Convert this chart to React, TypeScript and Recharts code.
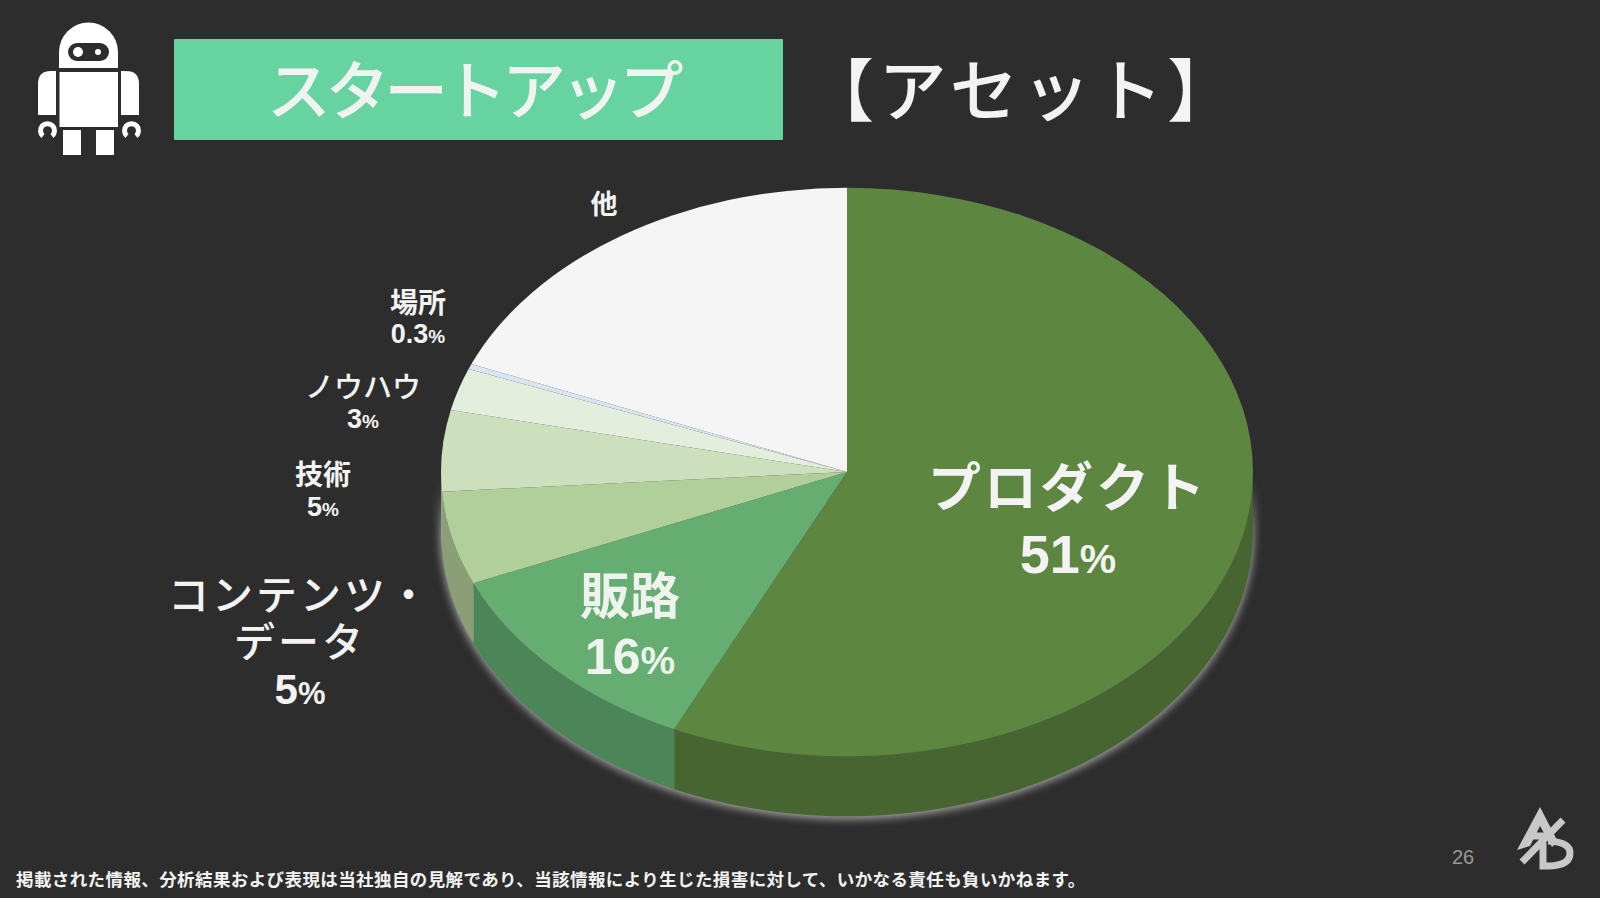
import React from 'react';
import { PieChart, Pie } from 'recharts';

// Slice order, clockwise from 12 o'clock.
const categories = ['プロダクト', '販路', 'コンテンツ・データ', '技術', 'ノウハウ', '場所', '他'];
// Shares as actually drawn in the picture (measured from the slice boundaries).
// The printed percentages below are the slide's own text and do not agree with the drawn areas.
const drawnShares = [57, 11.6, 5.3, 4.6, 2.4, 0.3, 18.8];
const printedPercents = ['51', '16', '5', '5', '3', '0.3', ''];
const labelNameLines = [['プロダクト'], ['販路'], ['コンテンツ・', 'データ'], ['技術'], ['ノウハウ'], ['場所'], ['他']];
const topColors = ['#5d8741', '#66ad72', '#b0cf9b', '#cde0bd', '#e4eedd', '#d9e5f2', '#f5f5f5'];
const wallColors = ['#466531', '#4c8558', '#8a9e78', '#9aa88e', '#aab3a5', '#a3acb5', '#b8b8b8'];

const pieData = categories.map((name, i) => ({ name, value: drawnShares[i], index: i }));

const W = 1600;
const H = 898;
const CX = 847;
const CY = 472;
const RX = 406;
const SQUASH = 0.7;
const DEPTH = 60;
const SANS = '"Liberation Sans", "Noto Sans CJK JP", sans-serif';
const CJK = '"Noto Sans CJK JP", sans-serif';

type Placement = { x: number; y: number; lineGap: number; numGap: number; nameSize: number; numSize: number; pctSize: number; weight: number; spacing: number; fill: string };
const placements: Placement[] = [
  { x: 1068, y: 507, lineGap: 0, numGap: 66, nameSize: 53, numSize: 54, pctSize: 41, weight: 700, spacing: 3, fill: '#f3f3f3' },
  { x: 630, y: 614, lineGap: 0, numGap: 60, nameSize: 50, numSize: 50, pctSize: 39, weight: 700, spacing: 0, fill: '#eef3ee' },
  { x: 300, y: 610, lineGap: 47, numGap: 47, nameSize: 41, numSize: 42, pctSize: 31, weight: 500, spacing: 3, fill: '#f3f3f3' },
  { x: 323, y: 485, lineGap: 0, numGap: 31, nameSize: 28, numSize: 27, pctSize: 19, weight: 700, spacing: 0, fill: '#f3f3f3' },
  { x: 363, y: 398, lineGap: 0, numGap: 30, nameSize: 29, numSize: 27, pctSize: 19, weight: 500, spacing: 0, fill: '#f3f3f3' },
  { x: 418, y: 313, lineGap: 0, numGap: 30, nameSize: 28, numSize: 27, pctSize: 19, weight: 700, spacing: 0, fill: '#f3f3f3' },
  { x: 604, y: 214, lineGap: 0, numGap: 0, nameSize: 27, numSize: 27, pctSize: 19, weight: 700, spacing: 0, fill: '#f3f3f3' },
];

const ell = (cx: number, cy: number, r: number, deg: number) => {
  const a = (deg * Math.PI) / 180;
  return [cx + r * Math.cos(a), cy - r * SQUASH * Math.sin(a)];
};

// Top face: the library's sector angles, drawn on an ellipse.
const TopFace = (p: any) => {
  const [sx, sy] = ell(p.cx, p.cy, p.outerRadius, p.startAngle);
  const [ex, ey] = ell(p.cx, p.cy, p.outerRadius, p.endAngle);
  const large = Math.abs(p.startAngle - p.endAngle) > 180 ? 1 : 0;
  const d = `M${p.cx},${p.cy} L${sx},${sy} A${p.outerRadius},${p.outerRadius * SQUASH} 0 ${large} 1 ${ex},${ey} Z`;
  return <path d={d} fill={topColors[p.index ?? p.payload?.index ?? 0]} />;
};

// Side wall: only the part of the sector on the front half of the ellipse.
const SideWall = (p: any) => {
  const a = Math.min(p.startAngle, 0);
  const b = Math.max(p.endAngle, -180);
  if (a <= b) return <g />;
  const r = p.outerRadius;
  const [sx, sy] = ell(p.cx, p.cy, r, a);
  const [ex, ey] = ell(p.cx, p.cy, r, b);
  const d = `M${sx},${sy} A${r},${r * SQUASH} 0 0 1 ${ex},${ey} L${ex},${ey + DEPTH} A${r},${r * SQUASH} 0 0 0 ${sx},${sy + DEPTH} Z`;
  return <path d={d} fill={wallColors[p.index ?? p.payload?.index ?? 0]} />;
};

const SliceLabel = (p: any) => {
  const i = p.index ?? p.payload?.index ?? 0;
  const c = placements[i];
  const lines = labelNameLines[i];
  return (
    <g>
      <text x={c.x} y={c.y} fill={c.fill} textAnchor="middle" fontFamily={CJK} fontSize={c.nameSize} fontWeight={c.weight} letterSpacing={c.spacing}>
        {lines.map((line, k) => (
          <tspan key={k} x={c.x} dy={k === 0 ? 0 : c.lineGap}>
            {line}
          </tspan>
        ))}
        {printedPercents[i] !== '' && (
          <tspan x={c.x} dy={c.numGap} fontFamily={SANS} fontWeight={700} fontSize={c.numSize} letterSpacing={0}>
            {printedPercents[i]}
            <tspan fontSize={c.pctSize}>%</tspan>
          </tspan>
        )}
      </text>
    </g>
  );
};

const Robot = () => (
  <svg width={120} height={150} viewBox="30 15 120 150" style={{ position: 'absolute', left: 30, top: 15 }}>
    <path d="M59 68 V52 A29.5 29.5 0 0 1 118 52 V68 Z" fill="#fff" />
    <rect x={68} y={43} width={41} height={18} rx={9} fill="#2d2d2d" />
    <circle cx={78} cy={52} r={5} fill="#fff" />
    <circle cx={98} cy={52} r={3} fill="#fff" />
    <rect x={59.5} y={72} width={58.5} height={55} fill="#fff" />
    <path d="M38 115 V84 Q38 71 51 71 H56 V115 Z" fill="#fff" />
    <path d="M121 115 V71 H126 Q139 71 139 84 V115 Z" fill="#fff" />
    <rect x={63} y={130} width={18} height={25} fill="#fff" />
    <rect x={96} y={130} width={18} height={25} fill="#fff" />
    <path d="M43 136 A7 7 0 1 1 52 136" fill="none" stroke="#fff" strokeWidth={5} />
    <path d="M127 136 A7 7 0 1 1 136 136" fill="none" stroke="#fff" strokeWidth={5} />
  </svg>
);

const Logo = () => (
  <svg width={70} height={80} viewBox="1510 800 70 80" style={{ position: 'absolute', left: 1510, top: 800 }}>
    <path d="M1540 807 L1517 850 L1530 846 L1540 826 L1552 847 L1558 842 Z" fill="#c8c8c8" />
    <g fill="none" stroke="#c8c8c8" strokeWidth={7}>
      <path d="M1563 820 L1522 862" />
      <path d="M1533 836 H1548" />
      <path d="M1543 843 V866 H1550 Q1570 865 1570 853 Q1570 842 1548 841" />
    </g>
  </svg>
);

export default function App() {
  return (
    <div style={{ position: 'absolute', left: 0, top: 0, width: W, height: H, background: '#2d2d2d', overflow: 'hidden' }}>
      <style>{`.pie-wall{filter:drop-shadow(0 2px 5px rgba(255,255,255,.65));}`}</style>
      <div style={{ position: 'absolute', left: 0, top: 0 }}>
        <PieChart width={W} height={H} margin={{ top: 0, right: 0, bottom: 0, left: 0 }}>
          <Pie
            className="pie-wall"
            data={pieData}
            dataKey="value"
            nameKey="name"
            cx={CX}
            cy={CY}
            outerRadius={RX}
            startAngle={90}
            endAngle={-270}
            stroke="none"
            isAnimationActive={false}
            shape={SideWall}
            label={false}
            labelLine={false}
          />
          <Pie
            data={pieData}
            dataKey="value"
            nameKey="name"
            cx={CX}
            cy={CY}
            outerRadius={RX}
            startAngle={90}
            endAngle={-270}
            stroke="none"
            isAnimationActive={false}
            shape={TopFace}
            label={SliceLabel}
            labelLine={false}
          />
        </PieChart>
      </div>
      <Robot />
      <div style={{ position: 'absolute', left: 174, top: 39, width: 609, height: 101, background: '#67d3a1', borderRadius: 1 }} />
      <div style={{ position: 'absolute', left: 168, top: 39, width: 609, height: 101, lineHeight: '94px', textAlign: 'center', color: '#f0f4f0', fontFamily: CJK, fontWeight: 500, fontSize: 64, letterSpacing: -5.2, whiteSpace: 'nowrap' }}>スタートアップ</div>
      <div style={{ position: 'absolute', left: 806, top: 39, height: 101, lineHeight: '95px', color: '#f3f3f3', fontFamily: CJK, fontWeight: 500, fontSize: 68, letterSpacing: 4.5, whiteSpace: 'nowrap' }}>【アセット】</div>
      <div style={{ position: 'absolute', left: 16, top: 868, color: '#f3f3f3', fontFamily: CJK, fontWeight: 700, fontSize: 17.5, letterSpacing: 0.4, lineHeight: '22px', whiteSpace: 'nowrap' }}>掲載された情報、分析結果および表現は当社独自の見解であり、当該情報により生じた損害に対して、いかなる責任も負いかねます。</div>
      <div style={{ position: 'absolute', left: 1452, top: 846, color: '#999', fontFamily: SANS, fontSize: 20, lineHeight: '22px' }}>26</div>
      <Logo />
    </div>
  );
}
